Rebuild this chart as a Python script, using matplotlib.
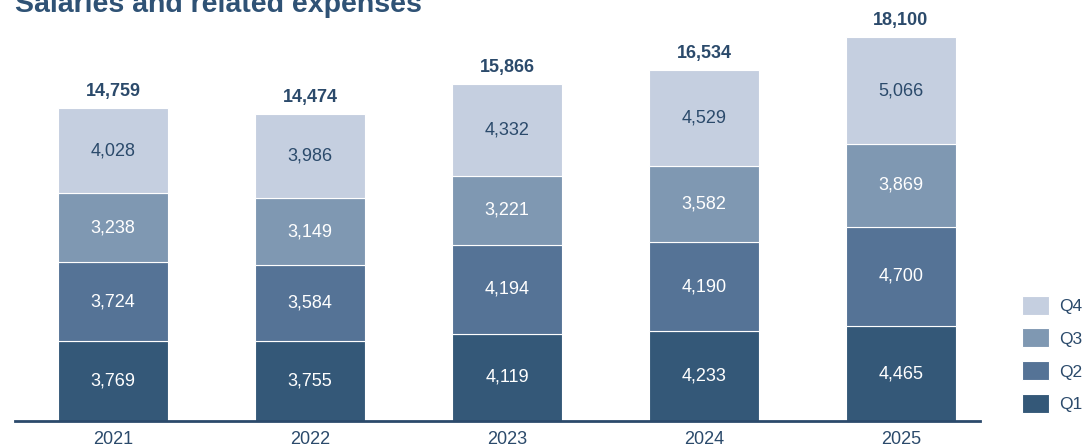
### stacked bars of salaries and related expenses per quarter
import numpy as np
import matplotlib.pyplot as plt

plt.rcParams['font.family'] = ['Liberation Sans', 'DejaVu Sans']

years = ['2021', '2022', '2023', '2024', '2025']
q1 = [3769, 3755, 4119, 4233, 4465]
q2 = [3724, 3584, 4194, 4190, 4700]
q3 = [3238, 3149, 3221, 3582, 3869]
q4 = [4028, 3986, 4332, 4529, 5066]
totals = [14759, 14474, 15866, 16534, 18100]

series = [('Q1', q1, '#345878', 'white'),
          ('Q2', q2, '#557396', 'white'),
          ('Q3', q3, '#7F98B2', 'white'),
          ('Q4', q4, '#C5CFE0', '#2B4A6B')]
dark = '#2B4A6B'

fig = plt.figure(figsize=(10.86, 4.47), dpi=100)
ax = fig.add_axes([15/1086, 26/447, 965/1086, 421/447])

x = np.arange(len(years))
width = 0.558
bottom = np.zeros(len(years))
handles = []
for name, vals, col, tcol in series:
    vals = np.array(vals)
    b = ax.bar(x, vals, width, bottom=bottom, color=col, edgecolor='white', linewidth=0.8, label=name)
    handles.append(b)
    for xi, v, bt in zip(x, vals, bottom):
        ax.text(xi, bt + v/2, f'{v:,}', ha='center', va='center', color=tcol, fontsize=13)
    bottom += vals

for xi, t, bt in zip(x, totals, bottom):
    ax.text(xi, bt + 380, f'{t:,}', ha='center', va='bottom', color=dark, fontsize=13, fontweight='bold')

ax.set_xlim(-0.497, 4.401)
ax.set_ylim(0, 19840)
ax.set_yticks([])
ax.set_xticks(x)
ax.set_xticklabels(years, fontsize=13, color=dark)
ax.tick_params(axis='x', length=0, pad=7)
for s in ['top', 'right', 'left']:
    ax.spines[s].set_visible(False)
ax.spines['bottom'].set_color(dark)
ax.spines['bottom'].set_linewidth(2)

leg = fig.legend(handles[::-1], ['Q4', 'Q3', 'Q2', 'Q1'], loc='upper left',
                 bbox_to_anchor=(1006/1086, 1 - 280/447), frameon=False,
                 fontsize=12.5, handlelength=1.6, handleheight=1.3,
                 labelspacing=0.8, handletextpad=0.55)
for t in leg.get_texts():
    t.set_color(dark)

fig.text(15/1086, 1 - 12/447, 'Salaries and related expenses', fontsize=20.5,
         fontweight='bold', color='#2F5275', ha='left', va='baseline')

plt.savefig('out.png', dpi=100)
